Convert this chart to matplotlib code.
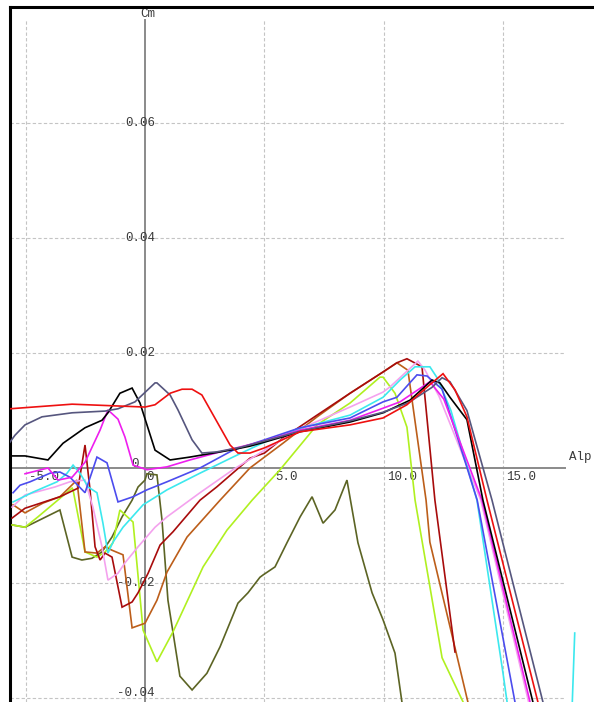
import matplotlib
matplotlib.use("Agg")
import matplotlib.pyplot as plt
from matplotlib.transforms import offset_copy

# ---------------- data (Alpha [deg], Cm) ----------------
red_a = [-5.65, -3.05, 0.0, 0.42, 1.05, 1.55, 1.97, 2.38, 3.56, 3.89, 4.39, 5.0, 6.49, 8.58, 9.96, 10.96, 11.92, 12.47, 12.97, 13.47, 14.31, 16.44, 16.8]
red_cm = [0.0103, 0.0111, 0.0106, 0.0110, 0.0130, 0.0137, 0.0137, 0.0127, 0.0040, 0.0026, 0.0026, 0.0035, 0.0063, 0.0075, 0.0087, 0.0110, 0.0145, 0.0164, 0.0136, 0.0089, -0.0056, -0.0407, -0.047]

slate_a = [-5.65, -5.44, -5.02, -4.31, -3.05, -1.67, -1.13, -0.42, 0.42, 0.50, 1.05, 1.38, 1.97, 2.38, 3.0, 4.0, 5.0, 6.49, 8.58, 9.96, 11.0, 12.0, 12.43, 12.76, 13.47, 14.52, 16.65, 17.0]
slate_cm = [0.0045, 0.0057, 0.0075, 0.0089, 0.0096, 0.0099, 0.0103, 0.0115, 0.0148, 0.0148, 0.0127, 0.0101, 0.0049, 0.0026, 0.0028, 0.0036, 0.0047, 0.0064, 0.0082, 0.0097, 0.0113, 0.0140, 0.0157, 0.0150, 0.0100, -0.0056, -0.0407, -0.047]

black_a = [-5.65, -5.02, -4.06, -3.43, -2.51, -1.80, -1.55, -1.05, -0.54, -0.21, 0.42, 1.05, 1.88, 3.56, 4.39, 5.0, 6.49, 8.58, 9.96, 11.09, 12.01, 12.34, 12.76, 13.47, 14.14, 16.23, 16.6]
black_cm = [0.0021, 0.0021, 0.0014, 0.0043, 0.0070, 0.0083, 0.0096, 0.0130, 0.0139, 0.0113, 0.0031, 0.0014, 0.0019, 0.0031, 0.0038, 0.0045, 0.0063, 0.0080, 0.0096, 0.0118, 0.0153, 0.0148, 0.0123, 0.0084, -0.0056, -0.0407, -0.047]

magenta_a = [-5.02, -4.06, -3.64, -3.05, -2.51, -1.88, -1.55, -1.13, -0.84, -0.50, 0.08, 0.92, 1.88, 3.14, 5.0, 6.49, 8.58, 9.96, 10.67, 11.92, 12.5, 14.10, 16.11, 16.5]
magenta_cm = [-0.0010, 0.0000, -0.0021, -0.0016, 0.0010, 0.0066, 0.0101, 0.0085, 0.0054, 0.0005, -0.0003, 0.0002, 0.0014, 0.0028, 0.0047, 0.0066, 0.0083, 0.0104, 0.0115, 0.0150, 0.0120, -0.0056, -0.0407, -0.047]

blue_a = [-5.52, -5.23, -4.81, -3.97, -3.56, -3.14, -2.51, -2.01, -1.59, -1.13, -0.50, 0.08, 0.92, 2.30, 3.68, 5.0, 6.49, 8.58, 9.96, 10.54, 11.38, 11.80, 12.43, 13.1, 13.9, 15.48, 15.8]
blue_cm = [-0.0043, -0.0030, -0.0024, -0.0009, -0.0007, -0.0016, -0.0043, 0.0019, 0.0009, -0.0059, -0.0050, -0.0038, -0.0024, 0.0000, 0.0031, 0.0049, 0.0070, 0.0087, 0.0115, 0.0123, 0.0162, 0.0160, 0.0137, 0.0050, -0.0056, -0.0407, -0.047]

cyan_a = [-5.52, -4.69, -3.68, -3.26, -3.01, -2.72, -2.38, -2.01, -1.76, -1.55, -1.34, -0.92, -0.08, 0.92, 2.30, 3.68, 5.0, 6.49, 8.58, 9.96, 10.67, 11.30, 11.92, 12.22, 12.8, 13.89, 14.98, 15.15, 15.3, 17.8, 17.98]
cyan_cm = [-0.0059, -0.0042, -0.0024, -0.0009, 0.0005, -0.0009, -0.0033, -0.0043, -0.0096, -0.0148, -0.0129, -0.0103, -0.0064, -0.0038, -0.0009, 0.0019, 0.0045, 0.0069, 0.0092, 0.0123, 0.0153, 0.0176, 0.0176, 0.0157, 0.0100, -0.0056, -0.0357, -0.0407, -0.047, -0.050, -0.0287]

pink_a = [-5.56, -5.02, -3.77, -3.14, -2.51, -2.18, -1.80, -1.55, -1.13, -0.84, -0.29, 0.42, 0.92, 2.30, 3.68, 5.0, 6.49, 8.58, 9.96, 10.25, 11.42, 11.72, 12.3, 14.05, 16.05, 16.4]
pink_cm = [-0.0068, -0.0047, -0.0033, -0.0024, -0.0021, -0.0068, -0.0137, -0.0195, -0.0183, -0.0165, -0.0137, -0.0103, -0.0085, -0.0043, -0.0003, 0.0031, 0.0068, 0.0106, 0.0132, 0.0141, 0.0186, 0.0170, 0.0125, -0.0056, -0.0407, -0.047]

darkred_a = [-5.56, -5.02, -3.56, -2.80, -2.51, -2.30, -2.09, -1.88, -1.67, -1.38, -0.96, -0.54, -0.29, 0.13, 0.63, 1.17, 2.30, 3.00, 4.39, 5.0, 5.77, 7.20, 8.58, 9.96, 10.54, 10.96, 11.59, 12.13, 12.97]
darkred_cm = [-0.0087, -0.0070, -0.0050, -0.0035, 0.0040, -0.0038, -0.0137, -0.0160, -0.0148, -0.0155, -0.0242, -0.0233, -0.0217, -0.0183, -0.0134, -0.0111, -0.0056, -0.0033, 0.0017, 0.0026, 0.0052, 0.0092, 0.0130, 0.0167, 0.0183, 0.0190, 0.0176, -0.0056, -0.0320]

brown_a = [-5.52, -5.02, -4.27, -3.56, -3.14, -2.85, -2.51, -2.01, -1.67, -1.38, -0.92, -0.54, 0.0, 0.50, 0.92, 1.76, 3.14, 4.39, 5.77, 7.20, 8.58, 9.96, 10.54, 11.0, 11.76, 11.92, 13.51, 13.8]
brown_cm = [-0.0064, -0.0078, -0.0061, -0.0050, -0.0033, -0.0021, -0.0146, -0.0148, -0.0137, -0.0143, -0.0151, -0.0278, -0.0270, -0.0230, -0.0181, -0.0120, -0.0056, 0.0000, 0.0043, 0.0089, 0.0130, 0.0167, 0.0183, 0.0170, -0.0056, -0.0129, -0.0407, -0.047]

ygreen_a = [-5.56, -5.02, -4.48, -3.05, -3.01, -2.51, -2.01, -1.67, -1.34, -1.05, -0.50, -0.08, 0.50, 1.17, 2.43, 3.43, 4.48, 5.65, 7.20, 8.58, 9.83, 9.96, 10.46, 10.96, 11.30, 12.43, 13.31, 13.6]
ygreen_cm = [-0.0099, -0.0103, -0.0085, -0.0035, -0.0038, -0.0146, -0.0155, -0.0146, -0.0130, -0.0073, -0.0094, -0.0282, -0.0337, -0.0285, -0.0172, -0.0108, -0.0056, -0.0003, 0.0075, 0.0113, 0.0158, 0.0158, 0.0130, 0.0071, -0.0056, -0.0330, -0.0407, -0.045]

olive_a = [-5.56, -5.02, -3.56, -3.05, -2.64, -2.22, -1.80, -1.38, -0.96, -0.54, -0.29, 0.0, 0.08, 0.50, 0.71, 0.96, 1.46, 1.97, 2.59, 3.14, 3.89, 4.31, 4.81, 4.94, 5.44, 5.94, 6.49, 6.99, 7.45, 7.95, 8.45, 8.91, 9.50, 9.96, 10.46, 10.75, 10.85]
olive_cm = [-0.0099, -0.0103, -0.0073, -0.0155, -0.0160, -0.0157, -0.0146, -0.0120, -0.0085, -0.0056, -0.0033, -0.0021, -0.0010, -0.0012, -0.0090, -0.0230, -0.0362, -0.0386, -0.0357, -0.0311, -0.0235, -0.0217, -0.0190, -0.0186, -0.0172, -0.0130, -0.0085, -0.0050, -0.0096, -0.0073, -0.0021, -0.0130, -0.0217, -0.0264, -0.0322, -0.0407, -0.045]

x_ticks = [-5.0, 0.0, 5.0, 10.0, 15.0]
x_tick_labels = ["-5.0", "0", "5.0", "10.0", "15.0"]
y_ticks = [-0.04, -0.02, 0.0, 0.02, 0.04, 0.06]
y_tick_labels = ["-0.04", "-0.02", "0", "0.02", "0.04", "0.06"]

series = [
    (olive_a, olive_cm, "#5c6424"),
    (ygreen_a, ygreen_cm, "#b0f020"),
    (brown_a, brown_cm, "#bc5e1a"),
    (darkred_a, darkred_cm, "#a80c0c"),
    (pink_a, pink_cm, "#f4a2ee"),
    (cyan_a, cyan_cm, "#3ce8ee"),
    (blue_a, blue_cm, "#4c4cee"),
    (magenta_a, magenta_cm, "#ee1eee"),
    (black_a, black_cm, "#000000"),
    (slate_a, slate_cm, "#56567e"),
    (red_a, red_cm, "#ee1010"),
]

# ---------------- figure ----------------
W, H, DPI = 594, 702, 100
fig = plt.figure(figsize=(W / DPI, H / DPI), dpi=DPI)
fig.patch.set_facecolor("white")

# layout: alpha 0 at x=145 px, 23.9 px/deg; Cm 0 at y=468 px, 5750 px/unit
left_px, top_px = 9.7, 6.5
ax = fig.add_axes([left_px / W, 0, (W - left_px) / W, (H - top_px) / H])
xmin = (left_px - 145) / 23.9
xmax = (W - 145) / 23.9
ymax = (468 - top_px) / 5750
ymin = (468 - H) / 5750
ax.set_xlim(xmin, xmax)
ax.set_ylim(ymin, ymax)
ax.set_xticks([])
ax.set_yticks([])
for s in ["right", "bottom"]:
    ax.spines[s].set_visible(False)
for s in ["left", "top"]:
    ax.spines[s].set_linewidth(2.2)
    ax.spines[s].set_color("black")

grid_xmax = (565 - 145) / 23.9
grid_ymax = (468 - 20) / 5750

# grid
for v in x_ticks:
    if v != 0:
        ax.plot([v, v], [ymin, grid_ymax], color="#c4c4c4", lw=0.8,
                ls=(0, (3, 2)), zorder=1)
for v in y_ticks:
    if v != 0:
        ax.plot([xmin, grid_xmax], [v, v], color="#c4c4c4", lw=0.8,
                ls=(0, (3, 2)), zorder=1)

# axes lines
ax.plot([0, 0], [ymin, grid_ymax], color="#8a8a8a", lw=1.4, zorder=1.5)
ax.plot([xmin, grid_xmax], [0, 0], color="#8a8a8a", lw=1.4, zorder=1.5)

mono = "Liberation Mono"
tcol = "#3a3a3a"
fs = 9

for v, lab in zip(x_ticks, x_tick_labels):
    if v == 0:
        tr = offset_copy(ax.transData, fig=fig, x=1, y=-9, units="dots")
        ax.text(v, 0, lab, transform=tr, ha="left", va="center",
                fontsize=fs, family=mono, color=tcol, zorder=2)
    else:
        tr = offset_copy(ax.transData, fig=fig, x=33, y=-9, units="dots")
        ax.text(v, 0, lab, transform=tr, ha="right", va="center",
                fontsize=fs, family=mono, color=tcol, zorder=2)

for v, lab in zip(y_ticks, y_tick_labels):
    if v == 0:
        tr = offset_copy(ax.transData, fig=fig, x=-10, y=4, units="dots")
        ax.text(0, v, lab, transform=tr, ha="center", va="center",
                fontsize=fs, family=mono, color=tcol, zorder=2)
    else:
        dy = 5 if v == y_ticks[0] else 0
        tr = offset_copy(ax.transData, fig=fig, x=10, y=dy, units="dots")
        ax.text(0, v, lab, transform=tr, ha="right", va="center",
                fontsize=fs, family=mono, color=tcol, zorder=2)

tr = offset_copy(ax.transData, fig=fig, x=3, y=0, units="dots")
ax.text(0, (468 - 14) / 5750, "Cm", transform=tr, ha="center", va="center",
        fontsize=fs, family=mono, color=tcol, zorder=2)
ax.text((569 - 145) / 23.9, (468 - 457) / 5750, "Alp", ha="left", va="center",
        fontsize=fs, family=mono, color=tcol, zorder=2)

for a, c, col in series:
    ax.plot(a, c, color=col, lw=1.2, zorder=3, solid_joinstyle="miter")

fig.savefig("out.png", dpi=DPI)
